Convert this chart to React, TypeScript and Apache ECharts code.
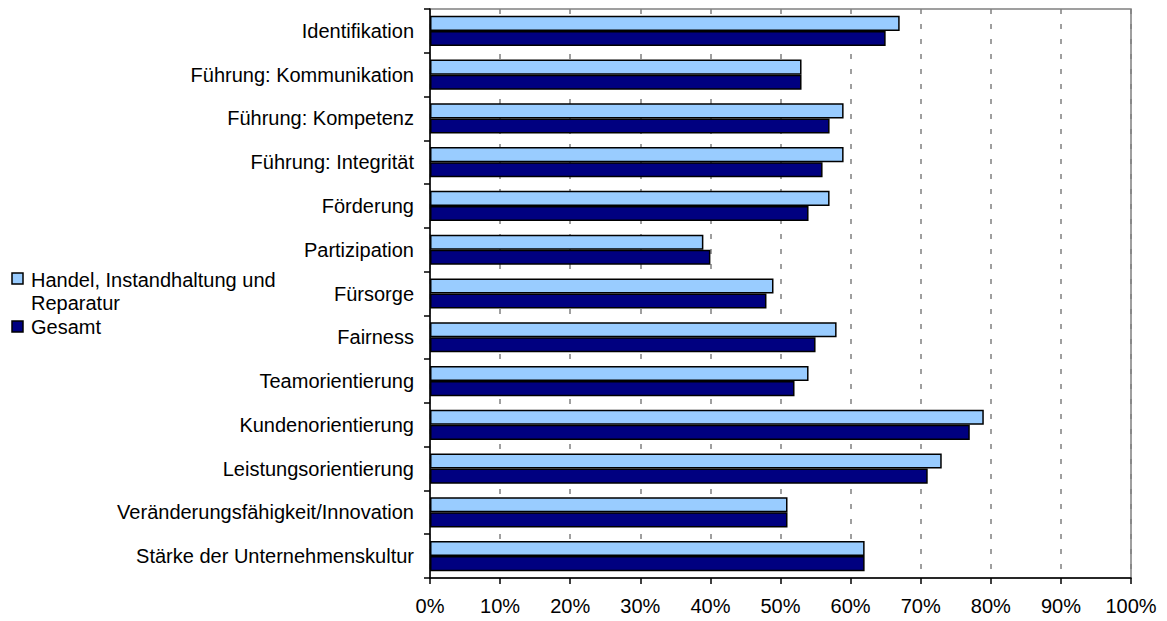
import React, { useEffect, useRef } from "react";
import * as echarts from "echarts";

const categories = [
  "Identifikation",
  "Führung: Kommunikation",
  "Führung: Kompetenz",
  "Führung: Integrität",
  "Förderung",
  "Partizipation",
  "Fürsorge",
  "Fairness",
  "Teamorientierung",
  "Kundenorientierung",
  "Leistungsorientierung",
  "Veränderungsfähigkeit/Innovation",
  "Stärke der Unternehmenskultur",
];

const seriesNames = ["Handel, Instandhaltung und Reparatur", "Gesamt"];
const handelValues = [67, 53, 59, 59, 57, 39, 49, 58, 54, 79, 73, 51, 62];
const gesamtValues = [65, 53, 57, 56, 54, 40, 48, 55, 52, 77, 71, 51, 62];

const FONT = "Liberation Sans, Arial, sans-serif";
const LIGHT = "#99CCFF";
const DARK = "#000080";

export default function App() {
  const ref = useRef<HTMLDivElement>(null);

  useEffect(() => {
    if (!ref.current) return;
    const chart = echarts.init(ref.current, undefined, { renderer: "svg" });
    chart.setOption({
      animation: false,
      backgroundColor: "#ffffff",
      textStyle: { fontFamily: FONT },
      grid: {
        left: 430,
        right: 36,
        top: 9,
        bottom: 43,
        show: true,
        borderColor: "#808080",
        borderWidth: 1.5,
        backgroundColor: "transparent",
      },
      xAxis: {
        type: "value",
        min: 0,
        max: 100,
        interval: 10,
        axisLine: { show: true, lineStyle: { color: "#000", width: 1.5 } },
        axisTick: { show: true, length: 6, lineStyle: { color: "#000", width: 1.5 } },
        axisLabel: {
          formatter: "{value}%",
          color: "#000",
          fontSize: 20,
          fontFamily: FONT,
          margin: 18,
        },
        splitLine: {
          show: true,
          lineStyle: { color: "#808080", width: 1.5, type: [5, 10] },
        },
      },
      yAxis: {
        type: "category",
        data: categories,
        inverse: true,
        axisLine: { show: true, lineStyle: { color: "#000", width: 1.5 } },
        axisTick: { show: true, length: 6, lineStyle: { color: "#000", width: 1.5 } },
        axisLabel: {
          color: "#000",
          fontSize: 20,
          fontFamily: FONT,
          margin: 16,
        },
        splitLine: { show: false },
      },
      series: [
        {
          name: seriesNames[0],
          type: "bar",
          data: handelValues,
          barGap: "0%",
          barCategoryGap: "31%",
          itemStyle: { color: LIGHT, borderColor: "#000", borderWidth: 1.5 },
        },
        {
          name: seriesNames[1],
          type: "bar",
          data: gesamtValues,
          barGap: "0%",
          barCategoryGap: "31%",
          itemStyle: { color: DARK, borderColor: "#000", borderWidth: 1.5 },
        },
      ],
      graphic: [
        {
          type: "rect",
          shape: { x: 12, y: 273, width: 11, height: 11 },
          style: { fill: LIGHT, stroke: "#000", lineWidth: 1.5 },
        },
        {
          type: "text",
          x: 31,
          y: 268,
          style: {
            text: "Handel, Instandhaltung und\nReparatur",
            fill: "#000",
            font: `20px ${FONT}`,
            lineHeight: 23,
            verticalAlign: "top",
            align: "left",
          },
        },
        {
          type: "rect",
          shape: { x: 12, y: 321, width: 11, height: 11 },
          style: { fill: DARK, stroke: "#000", lineWidth: 1.5 },
        },
        {
          type: "text",
          x: 31,
          y: 315,
          style: {
            text: "Gesamt",
            fill: "#000",
            font: `20px ${FONT}`,
            lineHeight: 23,
            verticalAlign: "top",
            align: "left",
          },
        },
      ],
    });
    return () => chart.dispose();
  }, []);

  return (
    <div
      ref={ref}
      style={{ position: "fixed", left: 0, top: 0, width: 1167, height: 621, background: "#fff" }}
    />
  );
}
